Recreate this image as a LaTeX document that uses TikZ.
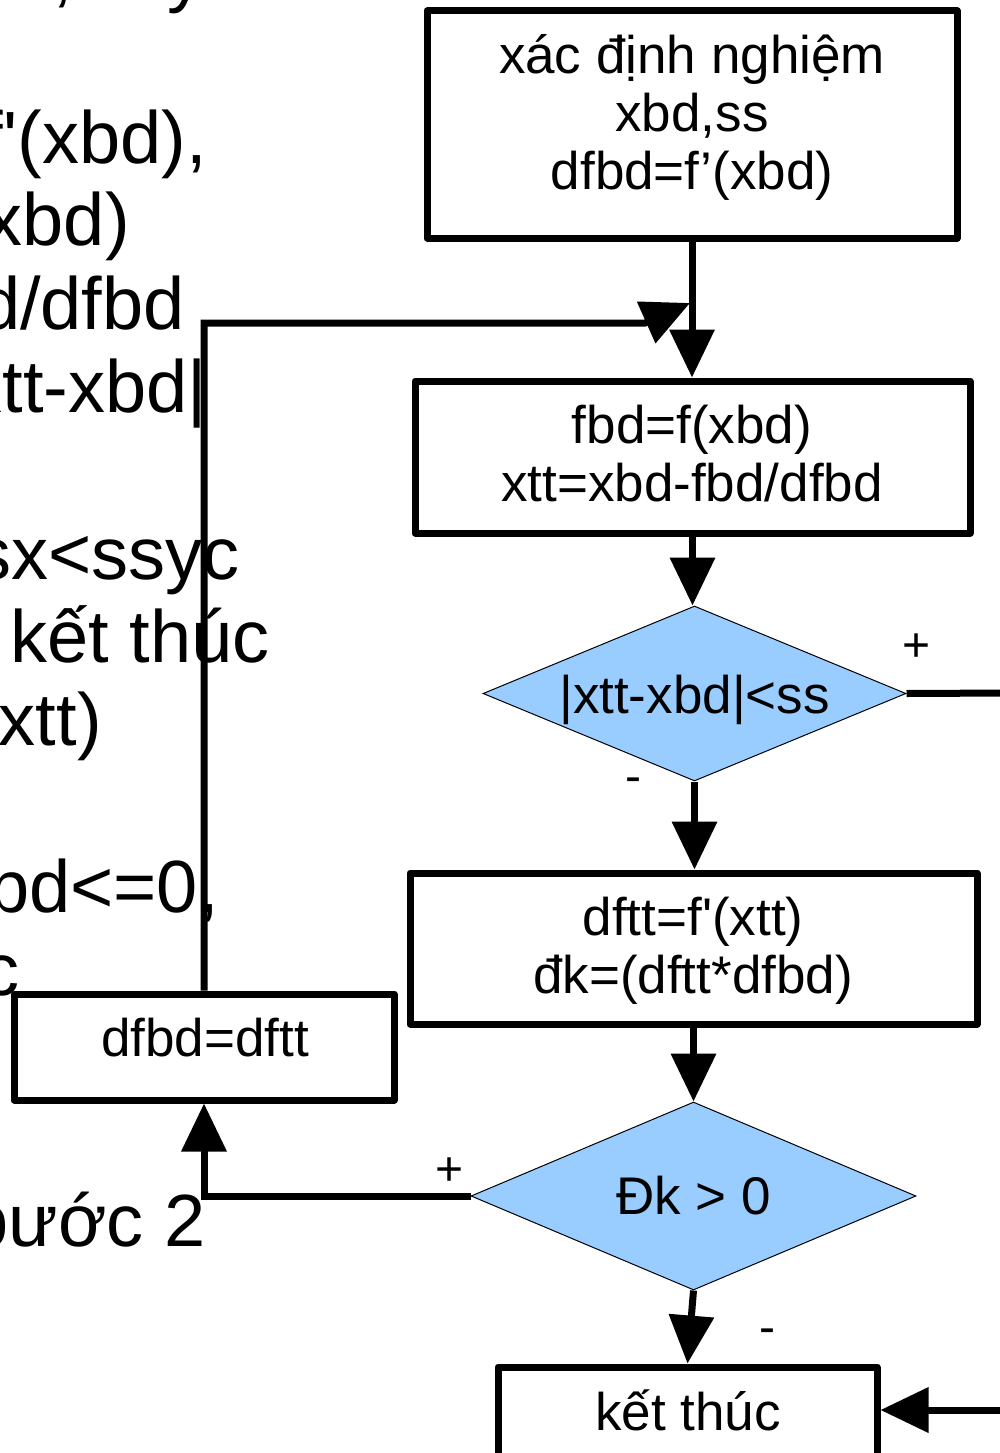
\documentclass[tikz,border=0pt]{standalone}
\usepackage{fontspec}
\setmainfont{Liberation Sans}
\usetikzlibrary{arrows.meta,shapes.geometric}
\definecolor{dblue}{HTML}{99CCFF}
\begin{document}
\begin{tikzpicture}[x=1pt,y=-1pt,
  procbox/.style={draw, line width=7pt, fill=white, inner sep=0pt, line join=round},
  btxt/.style={font=\fontsize{53}{58}\selectfont, align=center, inner sep=0pt},
  ltxt/.style={font=\fontsize{74}{84}\selectfont, anchor=base east, inner sep=0pt},
  dec/.style={diamond, draw, line width=1pt, fill=dblue, inner sep=0pt, font=\fontsize{53}{58}\selectfont},
  sgn/.style={font=\fontsize{48}{50}\selectfont, inner sep=0pt},
  conn/.style={line width=7pt, -{Triangle[length=48pt,width=44pt]}},
  wire/.style={line width=7pt}
]
\useasboundingbox (0,0) rectangle (1000,1453);
\clip (0,0) rectangle (1000,1453);

% left description text (cut at the left edge)
\node[ltxt] (l0) at (205,-1) {nhập xbd, ss, ssy};
\node[ltxt] (l1) at (207,163) {dfbd=f\textquotesingle(xbd),};
\node[ltxt] (l2) at (130,245) {fbd=f(xbd)};
\node[ltxt] (l3) at (185,329) {xtt=xbd-fbd/dfbd};
\node[ltxt] (l4) at (207,412) {ssx=|xtt-xbd|};
\node[ltxt] (l5) at (240,579) {nếu ssx<ssyc};
\node[ltxt] (l6) at (270,662) {thì kết thúc};
\node[ltxt] (l7) at (102,745) {nghiệm (xtt)};
\node[ltxt] (l8) at (219,912) {nếu dftt*dfbd<=0,};
\node[ltxt] (l9) at (20,995) {kết thúc};
\node[ltxt] (l10) at (206,1246) {quay lại bước 2};

% boxes
\node[procbox, minimum width=530, minimum height=227] (b1) at (692,124.5) {};
\node[btxt] (t1) at (692,117) {xác định nghiệm\\xbd,ss\\dfbd=f’(xbd)};

\node[procbox, minimum width=555, minimum height=152] (b2) at (692.5,457) {};
\node[btxt] (t2) at (692,454) {fbd=f(xbd)\\xtt=xbd-fbd/dfbd};

\node[dec, aspect=2.42, minimum width=423, minimum height=175] (d1) at (694.5,693.5) {\raisebox{-19.5pt}[0pt][0pt]{|xtt-xbd|<ss}};

\node[procbox, minimum width=567, minimum height=151] (b3) at (693.5,948.5) {};
\node[btxt] (t3) at (693,951) {dftt=f\textquotesingle(xtt)\\đk=(dftt*dfbd)};

\node[dec, aspect=2.37, minimum width=445, minimum height=188] (d2) at (693.5,1196) {Đk > 0};

\node[procbox, minimum width=380, minimum height=106] (bd) at (204,1047) {};
\node[btxt, anchor=base] (tbd) at (205,1056) {dfbd=dftt};

\node[procbox, minimum width=379, minimum height=100] (ket) at (687.5,1417) {};
\node[btxt, anchor=base] (tket) at (688,1430) {kết thúc};

% branch labels
\node[sgn] (p1) at (917,648) {+};
\node[sgn] (m1) at (633,785) {-};
\node[sgn] (p2) at (450,1172) {+};
\node[sgn] (m2) at (767,1336) {-};

% free ends
\coordinate (loopmid) at (645,323);
\coordinate (loopend) at (690,303);
\coordinate (rout) at (1010,693);
\coordinate (rin) at (1010,1410);

% connectors
\draw[conn] (b1.south) -- (b1.south |- b2.north);
\draw[conn] (b2.south) -- (b2.south |- d1.north);
\draw[conn] (d1.south) -- (d1.south |- b3.north);
\draw[conn] (b3.south) -- (b3.south |- d2.north);
\draw[conn] (d2.south) -- (ket.north);
\draw[conn] (d2.west) -| (bd.south);
\draw[conn] (bd.north) |- (loopmid) -- (loopend);
\draw[wire] (d1.east) -- (rout);
\draw[conn] (rin) -- (rin -| ket.east);
\end{tikzpicture}
\end{document}
